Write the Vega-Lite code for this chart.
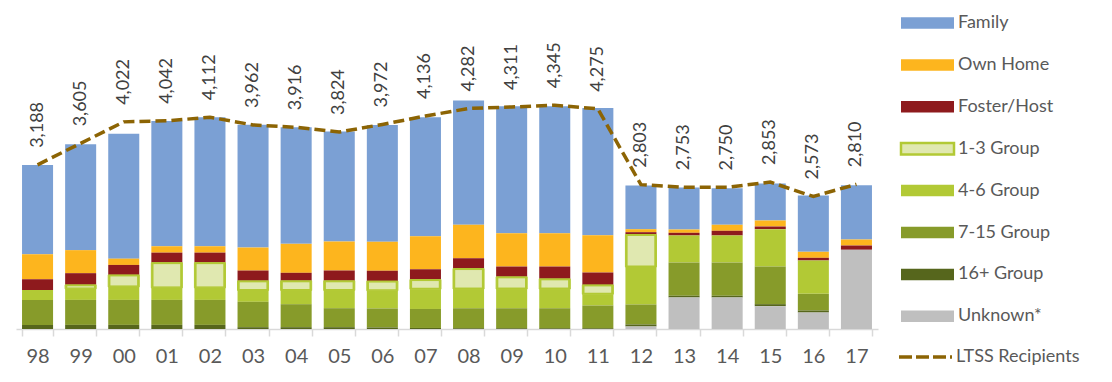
{
  "$schema": "https://vega.github.io/schema/vega-lite/v6.json",
  "width": 862,
  "height": 309,
  "autosize": {"type": "none"},
  "padding": {"left": 16, "top": 20, "right": 234, "bottom": 53},
  "config": {"view": {"stroke": null}, "font": "Lato"},
  "data": {
    "values": [
      {"year": "98", "Family": 1734, "Own Home": 485, "Foster/Host": 208, "1-3 Group": 0, "4-6 Group": 194, "7-15 Group": 485, "16+ Group": 80, "Unknown*": 0, "LTSS": 3188},
      {"year": "99", "Family": 2058, "Own Home": 447, "Foster/Host": 227, "1-3 Group": 78, "4-6 Group": 214, "7-15 Group": 485, "16+ Group": 80, "Unknown*": 0, "LTSS": 3605},
      {"year": "00", "Family": 2427, "Own Home": 122, "Foster/Host": 194, "1-3 Group": 233, "4-6 Group": 252, "7-15 Group": 485, "16+ Group": 80, "Unknown*": 0, "LTSS": 4022},
      {"year": "01", "Family": 2433, "Own Home": 124, "Foster/Host": 194, "1-3 Group": 491, "4-6 Group": 233, "7-15 Group": 485, "16+ Group": 80, "Unknown*": 0, "LTSS": 4042},
      {"year": "02", "Family": 2505, "Own Home": 124, "Foster/Host": 194, "1-3 Group": 491, "4-6 Group": 233, "7-15 Group": 485, "16+ Group": 80, "Unknown*": 0, "LTSS": 4112},
      {"year": "03", "Family": 2382, "Own Home": 447, "Foster/Host": 200, "1-3 Group": 188, "4-6 Group": 219, "7-15 Group": 493, "16+ Group": 35, "Unknown*": 0, "LTSS": 3962},
      {"year": "04", "Family": 2264, "Own Home": 563, "Foster/Host": 155, "1-3 Group": 188, "4-6 Group": 266, "7-15 Group": 447, "16+ Group": 35, "Unknown*": 0, "LTSS": 3916},
      {"year": "05", "Family": 2136, "Own Home": 563, "Foster/Host": 200, "1-3 Group": 188, "4-6 Group": 344, "7-15 Group": 369, "16+ Group": 35, "Unknown*": 0, "LTSS": 3824},
      {"year": "06", "Family": 2266, "Own Home": 563, "Foster/Host": 200, "1-3 Group": 188, "4-6 Group": 344, "7-15 Group": 369, "16+ Group": 30, "Unknown*": 0, "LTSS": 3972},
      {"year": "07", "Family": 2311, "Own Home": 641, "Foster/Host": 200, "1-3 Group": 188, "4-6 Group": 383, "7-15 Group": 369, "16+ Group": 20, "Unknown*": 0, "LTSS": 4136},
      {"year": "08", "Family": 2414, "Own Home": 649, "Foster/Host": 200, "1-3 Group": 398, "4-6 Group": 373, "7-15 Group": 388, "16+ Group": 15, "Unknown*": 0, "LTSS": 4282},
      {"year": "09", "Family": 2466, "Own Home": 647, "Foster/Host": 200, "1-3 Group": 237, "4-6 Group": 373, "7-15 Group": 388, "16+ Group": 15, "Unknown*": 0, "LTSS": 4311},
      {"year": "10", "Family": 2466, "Own Home": 647, "Foster/Host": 239, "1-3 Group": 198, "4-6 Group": 373, "7-15 Group": 388, "16+ Group": 15, "Unknown*": 0, "LTSS": 4345},
      {"year": "11", "Family": 2472, "Own Home": 724, "Foster/Host": 241, "1-3 Group": 181, "4-6 Group": 219, "7-15 Group": 441, "16+ Group": 15, "Unknown*": 0, "LTSS": 4275},
      {"year": "12", "Family": 849, "Own Home": 58, "Foster/Host": 45, "1-3 Group": 631, "4-6 Group": 728, "7-15 Group": 388, "16+ Group": 39, "Unknown*": 49, "LTSS": 2803},
      {"year": "13", "Family": 816, "Own Home": 64, "Foster/Host": 52, "1-3 Group": 0, "4-6 Group": 524, "7-15 Group": 647, "16+ Group": 33, "Unknown*": 612, "LTSS": 2753},
      {"year": "14", "Family": 711, "Own Home": 117, "Foster/Host": 91, "1-3 Group": 0, "4-6 Group": 524, "7-15 Group": 647, "16+ Group": 33, "Unknown*": 612, "LTSS": 2750},
      {"year": "15", "Family": 718, "Own Home": 117, "Foster/Host": 52, "1-3 Group": 0, "4-6 Group": 724, "7-15 Group": 732, "16+ Group": 39, "Unknown*": 443, "LTSS": 2853},
      {"year": "16", "Family": 1093, "Own Home": 117, "Foster/Host": 52, "1-3 Group": 0, "4-6 Group": 647, "7-15 Group": 324, "16+ Group": 39, "Unknown*": 320, "LTSS": 2573},
      {"year": "17", "Family": 1054, "Own Home": 117, "Foster/Host": 83, "1-3 Group": 0, "4-6 Group": 0, "7-15 Group": 0, "16+ Group": 0, "Unknown*": 1538, "LTSS": 2810}
    ]
  },
  "encoding": {
    "x": {
      "field": "year",
      "type": "ordinal",
      "sort": null,
      "scale": {"paddingInner": 0.28, "paddingOuter": 0.14},
      "axis": {
        "title": null,
        "labelAngle": 0,
        "domainColor": "#d9d9d9",
        "domainWidth": 1.5,
        "tickColor": "#d9d9d9",
        "tickWidth": 1.5,
        "tickSize": 7,
        "tickBand": "extent",
        "labelFontSize": 20,
        "labelFont": "Lato",
        "labelColor": "#595959",
        "labelPadding": 10
      }
    }
  },
  "layer": [
    {
      "transform": [
        {"fold": ["Family", "Own Home", "Foster/Host", "1-3 Group", "4-6 Group", "7-15 Group", "16+ Group", "Unknown*"], "as": ["cat", "value"]},
        {"filter": "datum.value > 0"},
        {"calculate": "indexof(['Unknown*','16+ Group','7-15 Group','4-6 Group','1-3 Group','Foster/Host','Own Home','Family'], datum.cat)", "as": "ord"}
      ],
      "mark": {"type": "bar"},
      "encoding": {
        "y": {"field": "value", "type": "quantitative", "stack": "zero", "scale": {"domain": [0, 6000]}, "axis": null},
        "fill": {
          "condition": {"test": "datum.cat === '1-3 Group'", "value": "#b2c935"},
          "field": "cat",
          "type": "nominal",
          "scale": {
            "domain": ["Family", "Own Home", "Foster/Host", "1-3 Group", "4-6 Group", "7-15 Group", "16+ Group", "Unknown*"],
            "range": ["#7ba0d4", "#fdb51e", "#8e1a1d", "#e0e8b0", "#b2c935", "#879b2a", "#56661c", "#bfbfbf"]
          },
          "legend": {
            "title": null,
            "orient": "none",
            "legendX": 881,
            "legendY": -6,
            "padding": 0,
            "symbolType": "M-1,-1.15H9.6V1.15H-1Z",
            "symbolSize": 100,
            "symbolStrokeWidth": 2.5,
            "labelOffset": 43,
            "labelFontSize": 18,
            "labelFont": "Lato",
            "labelColor": "#595959",
            "rowPadding": 19.9,
            "labelLimit": 300
          }
        },
        "stroke": {
          "field": "cat",
          "type": "nominal",
          "scale": {
            "domain": ["Family", "Own Home", "Foster/Host", "1-3 Group", "4-6 Group", "7-15 Group", "16+ Group", "Unknown*"],
            "range": ["transparent", "transparent", "transparent", "#b2c935", "transparent", "transparent", "transparent", "transparent"]
          },
          "legend": {
            "title": null,
            "orient": "none",
            "legendX": 881,
            "legendY": -6,
            "padding": 0,
            "symbolType": "M-1,-1.15H9.6V1.15H-1Z",
            "symbolSize": 100,
            "symbolStrokeWidth": 2.5,
            "labelOffset": 43,
            "labelFontSize": 18,
            "labelFont": "Lato",
            "labelColor": "#595959",
            "rowPadding": 19.9,
            "labelLimit": 300
          }
        },
        "order": {"field": "ord", "type": "quantitative"}
      }
    },
    {
      "transform": [
        {"fold": ["Family", "Own Home", "Foster/Host", "1-3 Group", "4-6 Group", "7-15 Group", "16+ Group", "Unknown*"], "as": ["cat", "value"]},
        {"filter": "datum.value > 0"},
        {"calculate": "indexof(['Unknown*','16+ Group','7-15 Group','4-6 Group','1-3 Group','Foster/Host','Own Home','Family'], datum.cat)", "as": "ord"},
        {"stack": "value", "groupby": ["year"], "sort": [{"field": "ord", "order": "ascending"}], "as": ["v0", "v1"]},
        {"filter": "datum.cat === '1-3 Group'"}
      ],
      "mark": {"type": "bar", "width": {"band": 0.86}, "yOffset": 1.5, "y2Offset": -1.5, "fill": "#e0e8b0"},
      "encoding": {
        "y": {"field": "v1", "type": "quantitative"},
        "y2": {"field": "v0"}
      }
    },
    {
      "mark": {"type": "line", "strokeDash": [11, 5], "strokeWidth": 3.5},
      "encoding": {
        "y": {"field": "LTSS", "type": "quantitative"},
        "color": {
          "datum": "LTSS Recipients",
          "type": "nominal",
          "scale": {"range": ["#8c6404"]},
          "legend": {
            "title": null,
            "orient": "none",
            "legendX": 879,
            "legendY": 328,
            "padding": 0,
            "symbolType": "M-1,0H9.6",
            "symbolSize": 100,
            "symbolStrokeWidth": 3.5,
            "symbolDash": [13, 4],
            "symbolFillColor": "transparent",
            "labelOffset": 43,
            "labelFontSize": 18,
            "labelFont": "Lato",
            "labelColor": "#595959",
            "labelLimit": 300
          }
        }
      }
    },
    {
      "mark": {"type": "text", "angle": 270, "align": "left", "baseline": "middle", "dx": 17, "fontSize": 18, "font": "Lato", "color": "#404040"},
      "encoding": {
        "y": {"field": "LTSS", "type": "quantitative"},
        "text": {"field": "LTSS", "type": "quantitative", "format": ","}
      }
    }
  ]
}
